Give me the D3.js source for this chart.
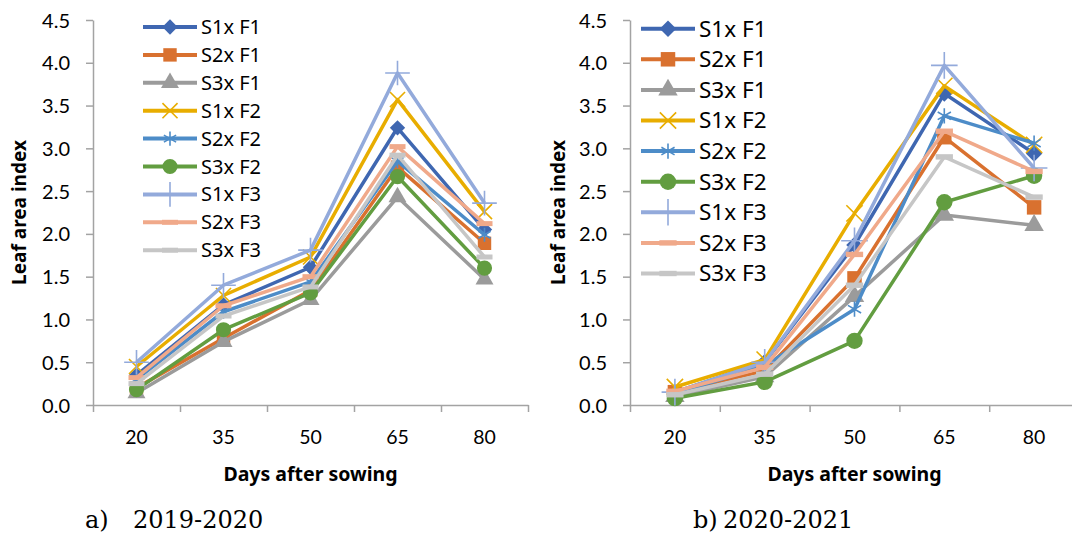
<!DOCTYPE html>
<html>
<head>
<meta charset="utf-8">
<script src="https://cdn.jsdelivr.net/npm/d3@7"></script>
<style>
  body { margin: 0; background: #fff; }
  svg { display: block; }
  text { font-family: Lato, "Open Sans", sans-serif; fill: #000; }
</style>
</head>
<body>
<svg id="chart" width="1072" height="533"></svg>
<script>
// DATA
const days = ["20", "35", "50", "65", "80"];
const seriesNames = ["S1x F1", "S2x F1", "S3x F1", "S1x F2", "S2x F2", "S3x F2", "S1x F3", "S2x F3", "S3x F3"];
const yTicks = [0, 0.5, 1.0, 1.5, 2.0, 2.5, 3.0, 3.5, 4.0, 4.5];

// leaf area index, one row per series, one value per day
const lai2019 = [
    [0.35, 1.17, 1.61, 3.24, 2.05],
    [0.20, 0.78, 1.34, 2.78, 1.89],
    [0.14, 0.74, 1.23, 2.43, 1.47],
    [0.45, 1.28, 1.73, 3.57, 2.26],
    [0.30, 1.09, 1.44, 2.85, 1.99],
    [0.18, 0.88, 1.31, 2.67, 1.60],
    [0.50, 1.40, 1.81, 3.88, 2.36],
    [0.32, 1.16, 1.50, 3.02, 2.12],
    [0.25, 1.04, 1.38, 2.92, 1.73]
];
const lai2020 = [
    [0.15, 0.50, 1.87, 3.64, 2.94],
    [0.15, 0.40, 1.48, 3.13, 2.31],
    [0.10, 0.33, 1.27, 2.22, 2.10],
    [0.21, 0.53, 2.24, 3.73, 3.04],
    [0.13, 0.46, 1.12, 3.38, 3.06],
    [0.08, 0.27, 0.75, 2.37, 2.68],
    [0.15, 0.50, 1.92, 3.97, 2.77],
    [0.16, 0.44, 1.76, 3.20, 2.73],
    [0.12, 0.36, 1.40, 2.90, 2.43]
];
const captionLabels = ["a)", "b)"];
const captionYears = ["2019-2020", "2020-2021"];

// STYLE
const colors = ["#3f67b1", "#d9712f", "#9b9b9b", "#e8ad00", "#4d8cc8", "#629d40", "#93aadb", "#f0a98a", "#c6c6c6"];
const markerTypes = ["diamond", "square", "triangle", "times", "asterisk", "circle", "plus", "dash", "dash"];

let yTop = 20, yBottom = 405;

let panels = [
    {data: lai2019, x0: 93, x1: 528, titleX: 19, scale: 1,
     legend: {x: 143, w: 54, y: 27, step: 27.9, font: 20},
     caption: {lx: 85, yx: 133}},
    {data: lai2020, x0: 630, x1: 1079, titleX: 558, scale: 1.08,
     legend: {x: 641, w: 54, y: 28.7, step: 30.6, font: 22.5},
     caption: {lx: 693, yx: 723}}
];

let svg = d3.select('#chart');

let y = d3.scaleLinear()
    .domain([0, 4.5])
    .range([yBottom, yTop]);

function drawMarker(g, type, color, s) {
    let sym = null, stroked = false;
    if (type === 'diamond') sym = d3.symbol(d3.symbolDiamond2, 150 * s * s);
    else if (type === 'square') sym = d3.symbol(d3.symbolSquare, 180 * s * s);
    else if (type === 'triangle') sym = d3.symbol(d3.symbolTriangle, 140 * s * s);
    else if (type === 'circle') sym = d3.symbol(d3.symbolCircle, 180 * s * s);
    else if (type === 'times') { sym = d3.symbol(d3.symbolTimes, 150 * s * s); stroked = true; }
    else if (type === 'asterisk') { sym = d3.symbol(d3.symbolAsterisk, 140 * s * s); stroked = true; }
    else if (type === 'plus') { sym = d3.symbol(d3.symbolPlus, 200 * s * s); stroked = true; }

    if (type === 'dash') {
        g.append('rect')
            .attr('x', -8 * s).attr('y', -2.5 * s)
            .attr('width', 16 * s).attr('height', 5 * s)
            .attr('fill', color);
    } else if (stroked) {
        g.append('path').attr('d', sym())
            .attr('fill', 'none').attr('stroke', color).attr('stroke-width', 1.6);
    } else {
        g.append('path').attr('d', sym()).attr('fill', color);
    }
}

panels.forEach((p, pi) => {
    let x = d3.scaleBand()
        .domain(days)
        .range([p.x0, p.x1]);
    let tickScale = d3.scaleLinear()
        .domain([0, days.length])
        .range([p.x0, p.x1]);

    let g = svg.append('g');

    // y axis
    let yAxis = g.append('g')
        .attr('transform', `translate(${p.x0},0)`)
        .call(d3.axisLeft(y).tickValues(yTicks).tickFormat(d3.format('.1f')).tickSize(7).tickPadding(16).tickSizeOuter(0));
    yAxis.selectAll('text').style('font-size', '20px').attr('dy', '0.35em');

    // x axis: band boundary ticks and centred labels
    let xTicks = g.append('g')
        .attr('transform', `translate(0,${yBottom})`)
        .call(d3.axisBottom(tickScale).tickValues(d3.range(days.length + 1)).tickFormat('').tickSize(7).tickSizeOuter(0));
    let xLabels = g.append('g')
        .attr('transform', `translate(0,${yBottom})`)
        .call(d3.axisBottom(x).tickSize(0));
    xLabels.select('.domain').remove();
    xLabels.selectAll('text').style('font-size', '19.5px').attr('y', 32).attr('dy', '0.35em');

    [yAxis, xTicks].forEach(a => {
        a.selectAll('.domain, line').attr('stroke', '#a3a3a3').attr('stroke-width', 1.5);
    });

    // axis titles
    g.append('text')
        .attr('transform', `translate(${p.titleX},${(yTop + yBottom) / 2}) rotate(-90)`)
        .attr('text-anchor', 'middle')
        .attr('dy', '0.35em')
        .style('font-family', '"Noto Sans", sans-serif')
        .style('font-size', '19px')
        .style('font-weight', 'bold')
        .text('Leaf area index');

    g.append('text')
        .attr('x', (p.x0 + p.x1) / 2)
        .attr('y', 474)
        .attr('text-anchor', 'middle')
        .attr('dy', '0.35em')
        .style('font-family', '"Noto Sans", sans-serif')
        .style('font-size', '19.5px')
        .style('font-weight', 'bold')
        .text('Days after sowing');

    // series
    let line = d3.line()
        .x((d, i) => x(days[i]) + x.bandwidth() / 2)
        .y(d => y(d));

    p.data.forEach((vals, si) => {
        let sg = g.append('g').attr('class', 'series');
        sg.append('path')
            .datum(vals)
            .attr('d', line)
            .attr('fill', 'none')
            .attr('stroke', colors[si])
            .attr('stroke-width', 3.5)
            .attr('stroke-linejoin', 'round');
        vals.forEach((v, i) => {
            let mg = sg.append('g')
                .attr('transform', `translate(${x(days[i]) + x.bandwidth() / 2},${y(v)})`);
            drawMarker(mg, markerTypes[si], colors[si], p.scale);
        });
    });

    // legend
    let lg = g.append('g');
    seriesNames.forEach((name, si) => {
        let row = lg.append('g')
            .attr('transform', `translate(${p.legend.x},${p.legend.y + si * p.legend.step})`);
        row.append('line')
            .attr('x1', 0).attr('x2', p.legend.w)
            .attr('stroke', colors[si])
            .attr('stroke-width', 4);
        let mg = row.append('g').attr('transform', `translate(${p.legend.w / 2},0)`);
        drawMarker(mg, markerTypes[si], colors[si], p.scale);
        row.append('text')
            .attr('x', p.legend.w + 4)
            .attr('dy', '0.35em')
            .style('font-family', '"Noto Sans", sans-serif')
            .style('font-size', p.legend.font + 'px')
            .text(name);
    });

    // caption
    svg.append('text')
        .attr('x', p.caption.lx).attr('y', 528)
        .style('font-family', '"DejaVu Serif", serif')
        .style('font-size', '24px')
        .text(captionLabels[pi]);
    svg.append('text')
        .attr('x', p.caption.yx).attr('y', 528)
        .style('font-family', '"DejaVu Serif", serif')
        .style('font-size', '24px')
        .text(captionYears[pi]);
});
</script>
</body>
</html>
